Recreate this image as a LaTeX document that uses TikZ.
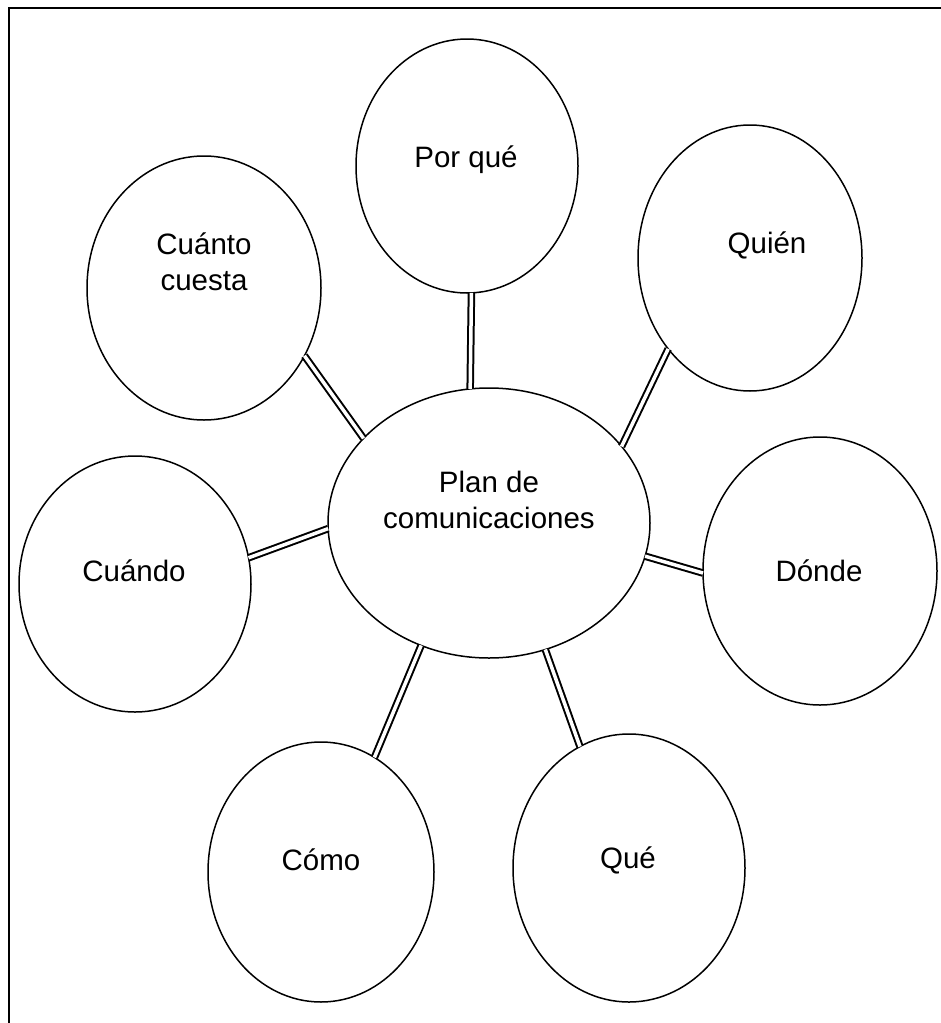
\documentclass[tikz,border=0pt]{standalone}
\usepackage{fontspec}
\setmainfont{Liberation Sans}
\usetikzlibrary{shapes.geometric}
\begin{document}
\begin{tikzpicture}[x=1pt,y=-1pt,
  bubble/.style={ellipse,draw,line width=1.5pt,inner sep=0pt,outer sep=0pt},
  lbl/.style={font=\fontsize{29.5}{36}\selectfont,align=center,inner sep=0pt},
  link/.style={draw,double,line width=2pt,double distance=3.5pt}]
\useasboundingbox (0,0) rectangle (941,1023);
\draw[line width=2.2pt] (9,1023) -- (9,8) -- (941,8);
% bubbles
\node[bubble,minimum width=322pt,minimum height=270pt] (plan) at (489,523) {};
\node[bubble,minimum width=222pt,minimum height=254pt] (pq) at (467,166) {};
\node[bubble,minimum width=234pt,minimum height=264pt] (cc) at (204,288) {};
\node[bubble,minimum width=224pt,minimum height=266pt] (qn) at (750,258) {};
\node[bubble,minimum width=232pt,minimum height=256pt] (cd) at (135,584) {};
\node[bubble,minimum width=234pt,minimum height=268pt] (dn) at (820,571) {};
\node[bubble,minimum width=226pt,minimum height=260pt] (cm) at (321,872) {};
\node[bubble,minimum width=232pt,minimum height=268pt] (q) at (629,868) {};
% labels
\node[lbl] (plant) at (489,500) {Plan de\\comunicaciones};
\node[lbl] (pqt) at (466,160) {Por qué};
\node[lbl] (cct) at (204,262) {Cuánto\\cuesta};
\node[lbl] (qnt) at (767,245) {Quién};
\node[lbl] (cdt) at (134,571) {Cuándo};
\node[lbl] (dnt) at (819,571) {Dónde};
\node[lbl] (cmt) at (321,860) {Cómo};
\node[lbl] (qt) at (628,860) {Qué};
% connectors
\path[link] (pq.-88.7) -- (plan.98.2);
\path[link] (qn.228.7) -- (plan.30.7);
\path[link] (cc.-34.1) -- (plan.146.2);
\path[link] (cd.13.7) -- (plan.182.5);
\path[link] (dn.181.5) -- (plan.-12.2);
\path[link] (cm.65.5) -- (plan.-119);
\path[link] (q.112.2) -- (plan.-66.1);
\end{tikzpicture}
\end{document}
